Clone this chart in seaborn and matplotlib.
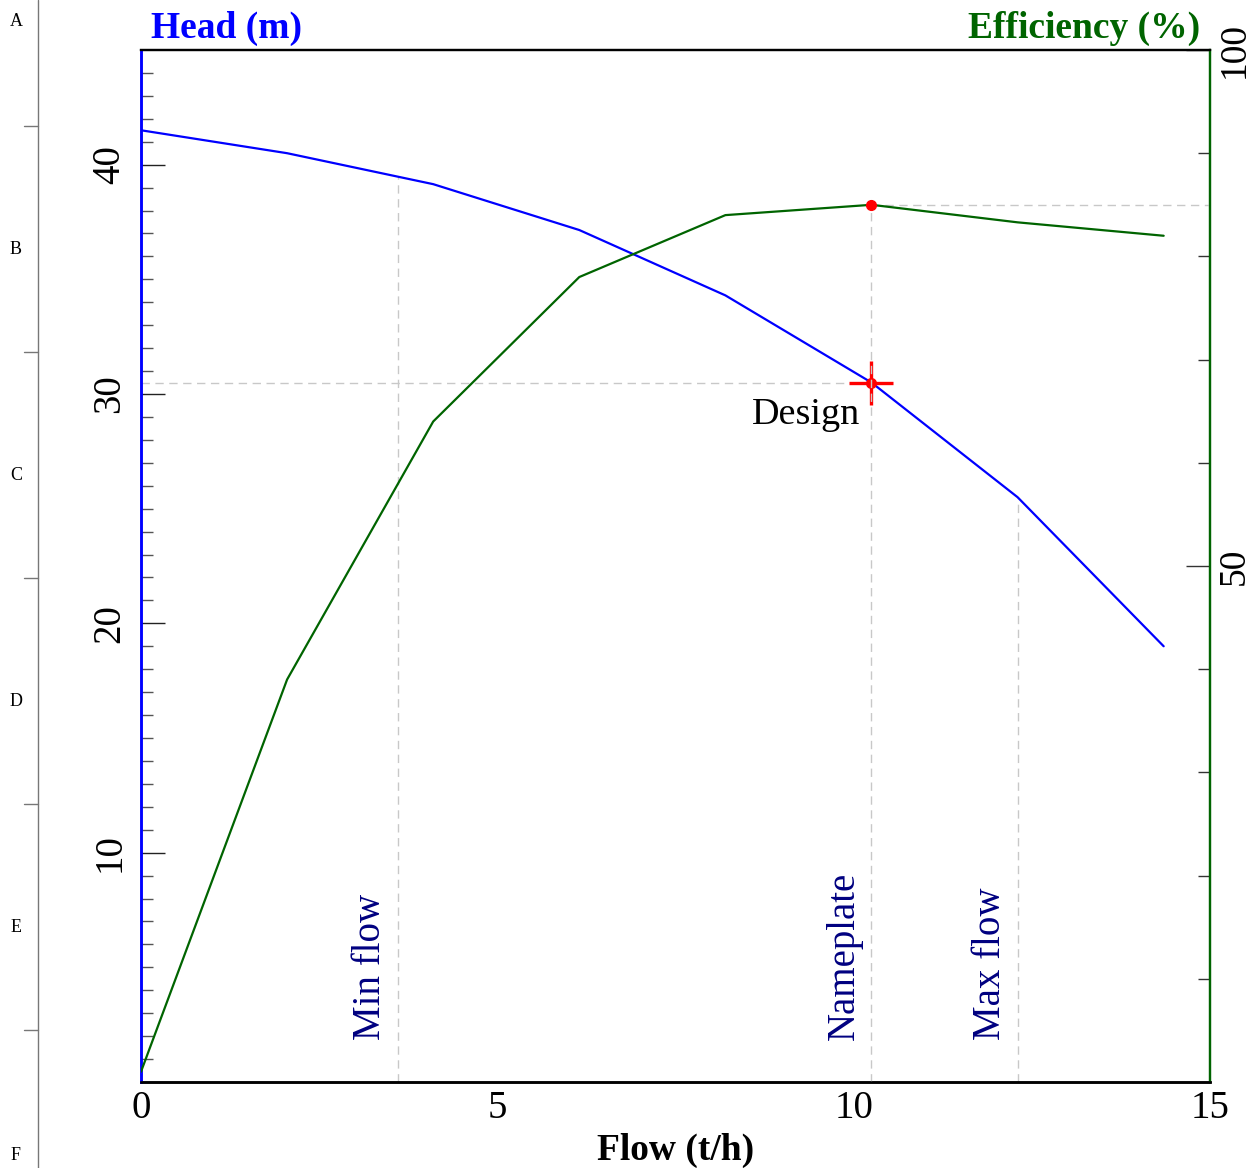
import matplotlib
matplotlib.use("Agg")
import matplotlib.pyplot as plt
from matplotlib.lines import Line2D
import seaborn as sns
import pandas as pd

# Pump curve data
flow = [0.0, 2.05, 4.1, 6.15, 8.2, 10.25, 12.3, 14.35]
head = [41.5, 40.5, 39.15, 37.15, 34.3, 30.5, 25.5, 19.0]
efficiency = [1.0, 39.0, 64.0, 78.0, 84.0, 85.0, 83.3, 82.0]

design_flow = 10.25
design_head = 30.5
design_eff = 85.0
min_flow = 3.6
max_flow = 12.3

marker_names = ["Min flow", "Nameplate", "Max flow"]
marker_flows = [min_flow, design_flow, max_flow]

frame_letters = ["A", "B", "C", "D", "E", "F"]

sns.set_theme(style="white")
plt.rcParams["font.family"] = ["Liberation Serif", "DejaVu Serif"]
plt.rcParams["text.color"] = "black"
plt.rcParams["xtick.labelcolor"] = "black"
plt.rcParams["ytick.labelcolor"] = "black"

W, H = 1254, 1168
fig = plt.figure(figsize=(W / 100, H / 100), dpi=100)
ax = fig.add_axes([141 / W, 1 - 1082 / H, (1210 - 141) / W, (1082 - 50) / H])
ax2 = ax.twinx()

df = pd.DataFrame({"flow": flow, "head": head, "efficiency": efficiency})

sns.lineplot(data=df, x="flow", y="head", ax=ax, color="#0000FF", lw=1.6, zorder=3)
sns.lineplot(data=df, x="flow", y="efficiency", ax=ax2, color="#006400", lw=1.6, zorder=3)

ax.set_xlim(0, 15)
ax.set_ylim(0, 45)
ax2.set_ylim(0, 100)


def head_at(q):
    s = pd.Series(head, index=flow)
    return float(s.reindex(sorted(set(flow) | {q})).interpolate(method="index")[q])


# Reference lines
grid_kw = dict(color="#c8c8c8", lw=1.0, ls=(0, (6, 4)), zorder=1)
ax.plot([0, design_flow], [design_head, design_head], **grid_kw)
ax.plot([min_flow, min_flow], [0, head_at(min_flow)], **grid_kw)
ax.plot([max_flow, max_flow], [0, head_at(max_flow)], **grid_kw)
ax2.plot([design_flow, design_flow], [0, design_eff], **grid_kw)
ax2.plot([design_flow, 15], [design_eff, design_eff], **grid_kw)

# Design point markers
ax.plot([design_flow], [design_head], marker="+", ms=31, mew=2.4, color="#FF0000", zorder=5)
ax.plot([design_flow], [design_head], marker="o", ms=7, color="#FF0000", zorder=6)
ax2.plot([design_flow], [design_eff], marker="o", ms=7, color="#FF0000", zorder=6)

ax.annotate("Design", (design_flow, design_head), xytext=(-11, -32),
            textcoords="offset pixels", ha="right", va="center",
            fontsize=27.5, color="black")

for name, q in zip(marker_names, marker_flows):
    ax.annotate(name, (q, 0), xytext=(-9, 42), textcoords="offset pixels",
                rotation=90, ha="right", va="bottom", fontsize=28,
                color="#000080")

# Axis styling
ax.set_xticks([0, 5, 10, 15])
ax.set_xticks(range(16), minor=True)
ax.set_yticks([10, 20, 30, 40])
ax.set_yticks(range(1, 45), minor=True)
ax2.set_yticks([50, 100])
ax2.set_yticks(range(10, 100, 10), minor=True)

ax.tick_params(axis="x", which="major", direction="in", length=17, width=1.0,
               color="#222222", labelsize=28, pad=6, labelcolor="black")
ax.tick_params(axis="x", which="minor", direction="in", length=8.5, width=1.0,
               color="#555555")
ax.tick_params(axis="y", which="major", direction="in", length=17, width=1.0,
               color="#222222", labelsize=28, pad=9, labelrotation=90,
               labelcolor="black")
ax.tick_params(axis="y", which="minor", direction="in", length=8.5, width=1.0,
               color="#555555")
ax2.tick_params(axis="y", which="major", direction="in", length=17, width=1.0,
                color="#333333", labelsize=27, pad=5, labelrotation=90,
                labelcolor="black")
ax2.tick_params(axis="y", which="minor", direction="in", length=8.5, width=1.0,
                color="#333333")
for lab in ax.get_yticklabels():
    lab.set_va("center")
for lab in ax2.get_yticklabels():
    lab.set_va("center")

ax.set_xlabel("Flow (t/h)", fontsize=27, fontweight="bold", labelpad=4,
              color="black")
ax.set_ylabel("")
ax2.set_ylabel("")

for a in (ax, ax2):
    a.spines["top"].set_color("black")
    a.spines["top"].set_linewidth(1.6)
    a.spines["bottom"].set_color("black")
    a.spines["bottom"].set_linewidth(1.8)
    a.spines["left"].set_color("#0000FF")
    a.spines["left"].set_linewidth(1.8)
    a.spines["right"].set_color("#006400")
    a.spines["right"].set_linewidth(1.6)

fig.text(151 / W, 1 - 28 / H, "Head (m)", fontsize=27, fontweight="bold",
         color="#0000FF", ha="left", va="center")
fig.text(1200 / W, 1 - 28 / H, "Efficiency (%)", fontsize=27, fontweight="bold",
         color="#006400", ha="right", va="center")

# Drawing frame on the left margin
fig.add_artist(Line2D([38 / W, 38 / W], [0, 1], transform=fig.transFigure,
                      color="#777777", lw=1.0))
for yy in [126, 352, 578, 804, 1030]:
    fig.add_artist(Line2D([24 / W, 38 / W], [1 - yy / H, 1 - yy / H],
                          transform=fig.transFigure, color="#777777", lw=1.0))
for letter, yy in zip(frame_letters, [22, 250, 476, 702, 928, 1155]):
    fig.text(16 / W, 1 - yy / H, letter, fontsize=13, ha="center", va="center",
             color="black")

fig.savefig("out.png", dpi=100)
